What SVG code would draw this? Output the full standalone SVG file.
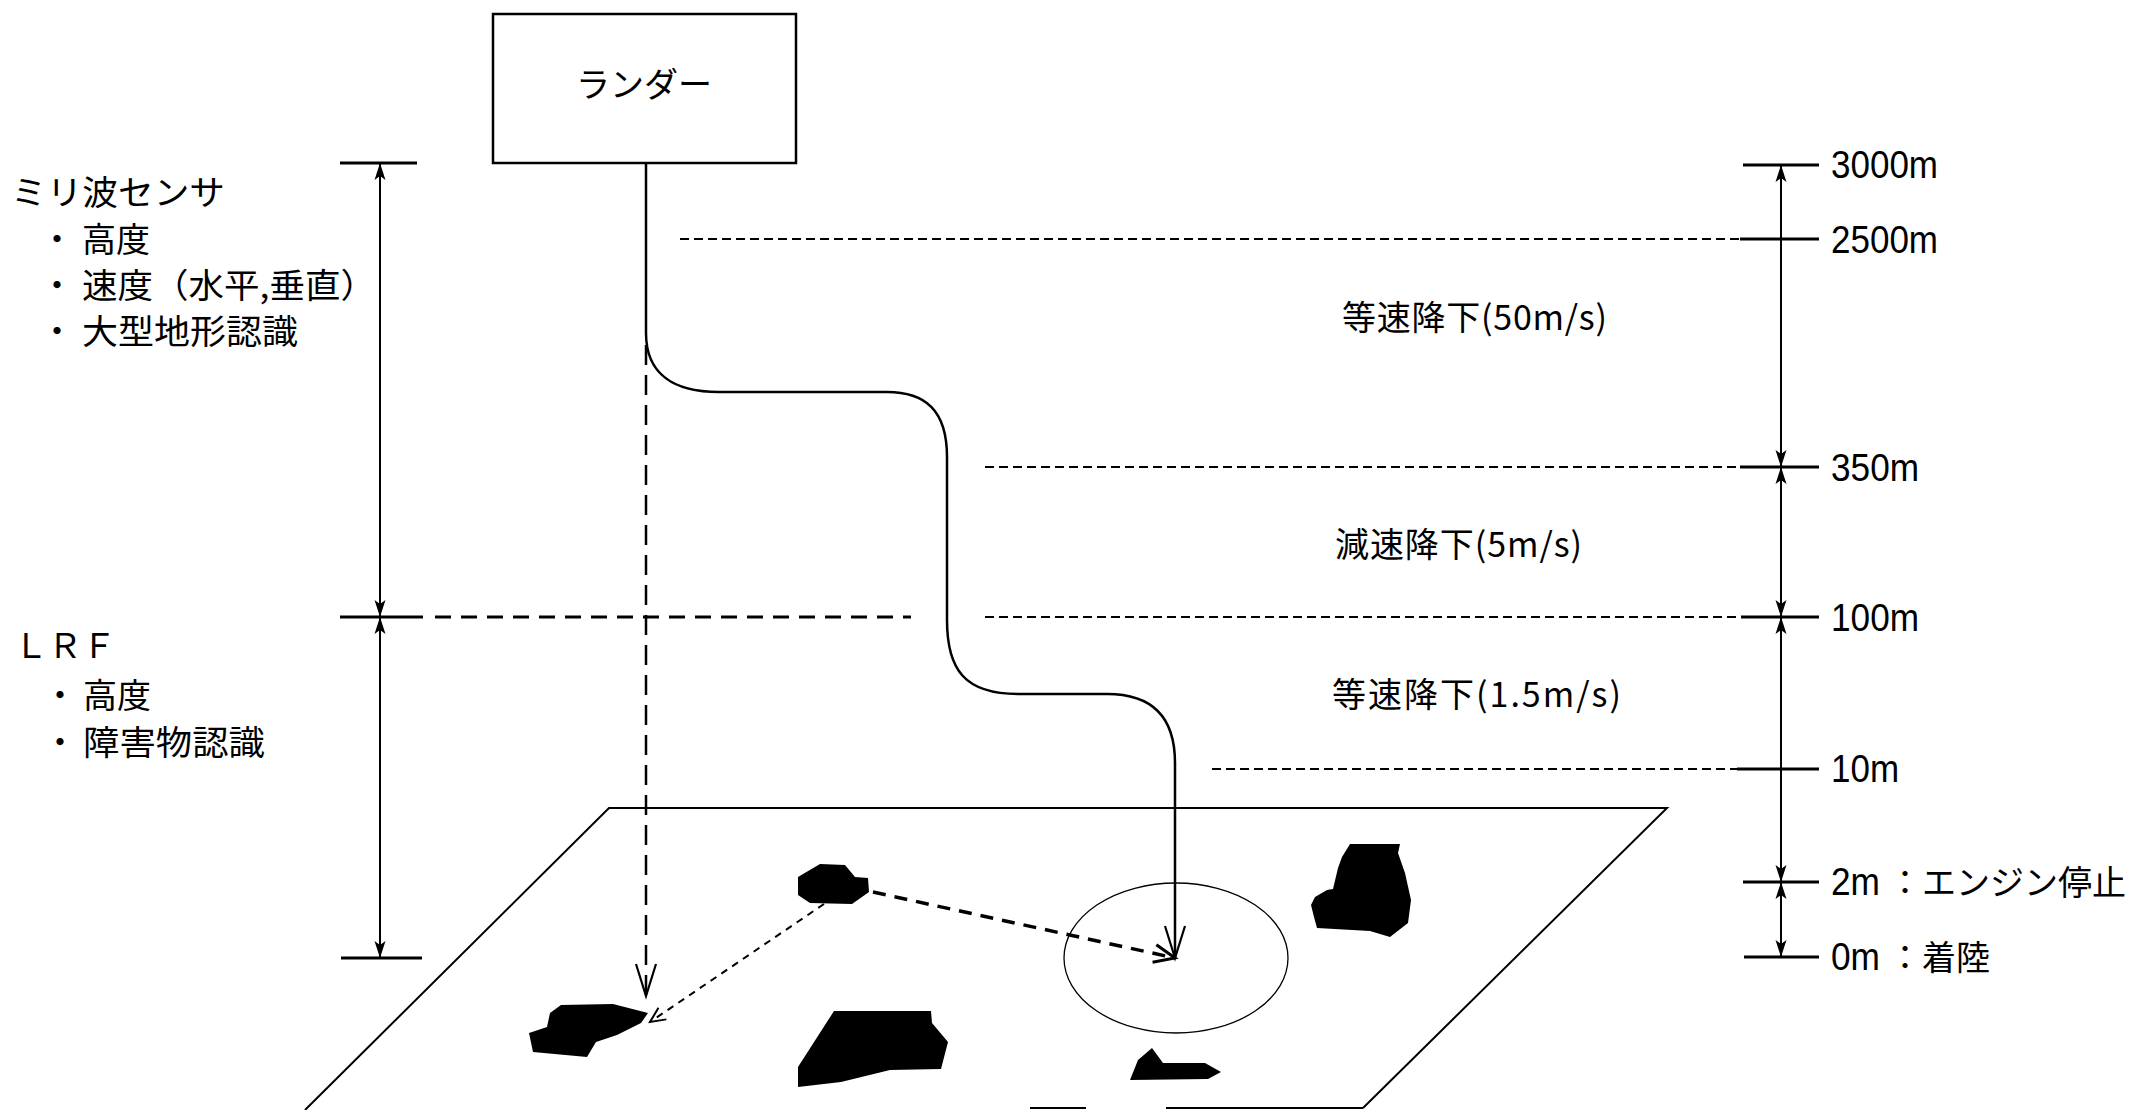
<svg xmlns="http://www.w3.org/2000/svg" width="2142" height="1110" viewBox="0 0 2142 1110">
  <style>
    .jp { font-family: "Noto Sans CJK JP", "Noto Sans", sans-serif; font-size: 34px; fill: #000; }
    .num { font-family: "Liberation Sans", "Noto Sans CJK JP", sans-serif; font-size: 39px; fill: #000; }
    .ln { stroke: #000; fill: none; }
    .dim { stroke: #000; stroke-width: 2; fill: none; marker-start: url(#dimArrow); marker-end: url(#dimArrow); }
    .tick { stroke: #000; stroke-width: 3; }
    .fine { stroke: #000; stroke-width: 1.8; stroke-dasharray: 9 5; fill: none; }
    .rock { fill: #000; stroke: none; }
  </style>
  <defs>
    <marker id="dimArrow" markerUnits="userSpaceOnUse" markerWidth="20" markerHeight="14" refX="0" refY="0" orient="auto-start-reverse" style="overflow:visible">
      <path d="M0,0 L-17,-5.5 L-13,0 L-17,5.5 Z" fill="#000"/>
    </marker>
    <marker id="veeLarge" markerUnits="userSpaceOnUse" markerWidth="40" markerHeight="30" refX="0" refY="0" orient="auto" style="overflow:visible">
      <path d="M-32,-10 L0,0 L-32,10" fill="none" stroke="#000" stroke-width="2.2"/>
    </marker>
    <marker id="veeMid" markerUnits="userSpaceOnUse" markerWidth="30" markerHeight="24" refX="0" refY="0" orient="auto" style="overflow:visible">
      <path d="M-21,-9 L0,0 L-21,9" fill="none" stroke="#000" stroke-width="3"/>
    </marker>
    <marker id="veeSmall" markerUnits="userSpaceOnUse" markerWidth="24" markerHeight="20" refX="0" refY="0" orient="auto" style="overflow:visible">
      <path d="M-15,-7 L0,0 L-15,7" fill="none" stroke="#000" stroke-width="2"/>
    </marker>
  </defs>

  <rect width="2142" height="1110" fill="#fff"/>

  <!-- ground plane -->
  <g id="ground">
    <path class="ln" stroke-width="2" d="M305,1110 L609,808 L1667,808 L1363,1108"/>
    <path class="ln" stroke-width="2" d="M1030,1108 L1086,1108 M1166,1108 L1363,1108"/>
    <ellipse id="landing-zone" cx="1176" cy="958" rx="112" ry="75" class="ln" stroke-width="1.3"/>
  </g>

  <!-- obstacles on the surface -->
  <g id="rocks">
    <polygon id="rock-a" class="rock" points="820,864 845,865 855,877 868,878 869,892 852,904 810,903 798,895 798,877"/>
    <polygon id="rock-b" class="rock" points="561,1005 613,1004 648,1013 641,1023 617,1035 596,1042 587,1057 533,1052 529,1033 547,1027 550,1013"/>
    <polygon id="rock-c" class="rock" points="834,1011 931,1011 932,1023 948,1042 941,1069 890,1070 841,1082 798,1087 798,1067"/>
    <polygon id="rock-d" class="rock" points="1152,1048 1163,1063 1205,1063 1221,1072 1208,1079 1130,1080 1138,1060"/>
    <polygon id="rock-e" class="rock" points="1350,844 1400,844 1398,853 1405,873 1411,900 1408,923 1390,937 1370,931 1317,928 1314,917 1311,905 1315,897 1327,890 1333,889 1338,868 1342,857"/>
  </g>

  <!-- lander -->
  <g id="lander">
    <rect x="493" y="14" width="303" height="149" class="ln" stroke-width="2.5"/>
    <text class="jp" x="644" y="97" text-anchor="middle">ランダー</text>
  </g>

  <!-- sensor descriptions -->
  <g id="mmwave-sensor">
    <text class="jp" x="11" y="205" textLength="214" lengthAdjust="spacingAndGlyphs">ミリ波センサ</text>
    <text class="jp" y="252"><tspan x="40">・</tspan><tspan x="82">高度</tspan></text>
    <text class="jp" y="298"><tspan x="40">・</tspan><tspan x="82" textLength="294" lengthAdjust="spacingAndGlyphs">速度（水平,垂直）</tspan></text>
    <text class="jp" y="344"><tspan x="40">・</tspan><tspan x="82" textLength="216" lengthAdjust="spacingAndGlyphs">大型地形認識</tspan></text>
  </g>
  <g id="lrf-sensor">
    <text class="jp" x="14" y="658">ＬＲＦ</text>
    <text class="jp" y="708"><tspan x="43">・</tspan><tspan x="83">高度</tspan></text>
    <text class="jp" y="755"><tspan x="43">・</tspan><tspan x="83" textLength="182" lengthAdjust="spacingAndGlyphs">障害物認識</tspan></text>
  </g>

  <!-- sensor range dimension (left) -->
  <g id="sensor-range">
    <line class="tick" x1="340" y1="163" x2="417" y2="163"/>
    <line class="tick" x1="340" y1="617" x2="423" y2="617"/>
    <line class="tick" x1="341" y1="958" x2="422" y2="958"/>
    <line class="dim" x1="380" y1="163" x2="380" y2="617"/>
    <line class="dim" x1="380" y1="617" x2="380" y2="958"/>
    <line x1="435" y1="617" x2="911" y2="617" stroke="#000" stroke-width="3" stroke-dasharray="16 10"/>
  </g>

  <!-- altitude levels -->
  <g id="altitude-levels">
    <line class="fine" x1="680" y1="239" x2="1740" y2="239"/>
    <line class="fine" x1="985" y1="467" x2="1740" y2="467"/>
    <line class="fine" x1="985" y1="617" x2="1740" y2="617"/>
    <line class="fine" x1="1212" y1="769" x2="1737" y2="769"/>

    <line class="tick" x1="1743" y1="165" x2="1819" y2="165"/>
    <line class="tick" x1="1740" y1="239" x2="1819" y2="239"/>
    <line class="tick" x1="1740" y1="467" x2="1819" y2="467"/>
    <line class="tick" x1="1741" y1="617" x2="1819" y2="617"/>
    <line class="tick" x1="1737" y1="769" x2="1819" y2="769"/>
    <line class="tick" x1="1743" y1="882" x2="1819" y2="882"/>
    <line class="tick" x1="1744" y1="957" x2="1819" y2="957"/>

    <line class="dim" x1="1781" y1="165" x2="1781" y2="467"/>
    <line class="dim" x1="1781" y1="467" x2="1781" y2="617"/>
    <line class="dim" x1="1781" y1="617" x2="1781" y2="882"/>
    <line class="dim" x1="1781" y1="882" x2="1781" y2="957"/>

    <text class="num" x="1831" y="178" textLength="107" lengthAdjust="spacingAndGlyphs">3000m</text>
    <text class="num" x="1831" y="253" textLength="107" lengthAdjust="spacingAndGlyphs">2500m</text>
    <text class="num" x="1831" y="481" textLength="88" lengthAdjust="spacingAndGlyphs">350m</text>
    <text class="num" x="1831" y="631" textLength="88" lengthAdjust="spacingAndGlyphs">100m</text>
    <text class="num" x="1831" y="782" textLength="68" lengthAdjust="spacingAndGlyphs">10m</text>
    <text y="895"><tspan class="num" x="1831" textLength="49" lengthAdjust="spacingAndGlyphs">2m</tspan><tspan class="jp" x="1888">：エンジン停止</tspan></text>
    <text y="970"><tspan class="num" x="1831" textLength="49" lengthAdjust="spacingAndGlyphs">0m</tspan><tspan class="jp" x="1888">：着陸</tspan></text>
  </g>

  <!-- descent phases -->
  <g id="phases">
    <text class="jp" x="1342" y="330" textLength="265">等速降下(50m/s)</text>
    <text class="jp" x="1335" y="557" textLength="247">減速降下(5m/s)</text>
    <text class="jp" x="1332" y="707" textLength="289">等速降下(1.5m/s)</text>
  </g>

  <!-- trajectories and sensing paths -->
  <g id="connectors">
    <path class="ln" stroke-width="2.5" marker-end="url(#veeLarge)"
          d="M646,163 L646,333 C646,375 675,392 719,392 L887,392 C925,392 947,410 947,457 L947,620 C947,670 965,694 1018,694 L1107,694 C1150,694 1175,715 1175,763 L1175,958"/>
    <line x1="646" y1="345" x2="646" y2="996" stroke="#000" stroke-width="2.5" stroke-dasharray="20 10" marker-end="url(#veeLarge)"/>
    <line x1="873" y1="892" x2="1175" y2="958" stroke="#000" stroke-width="3.5" stroke-dasharray="13 9" marker-end="url(#veeMid)"/>
    <line x1="824" y1="904" x2="650" y2="1022" stroke="#000" stroke-width="2" stroke-dasharray="7 6" marker-end="url(#veeSmall)"/>
  </g>
</svg>
